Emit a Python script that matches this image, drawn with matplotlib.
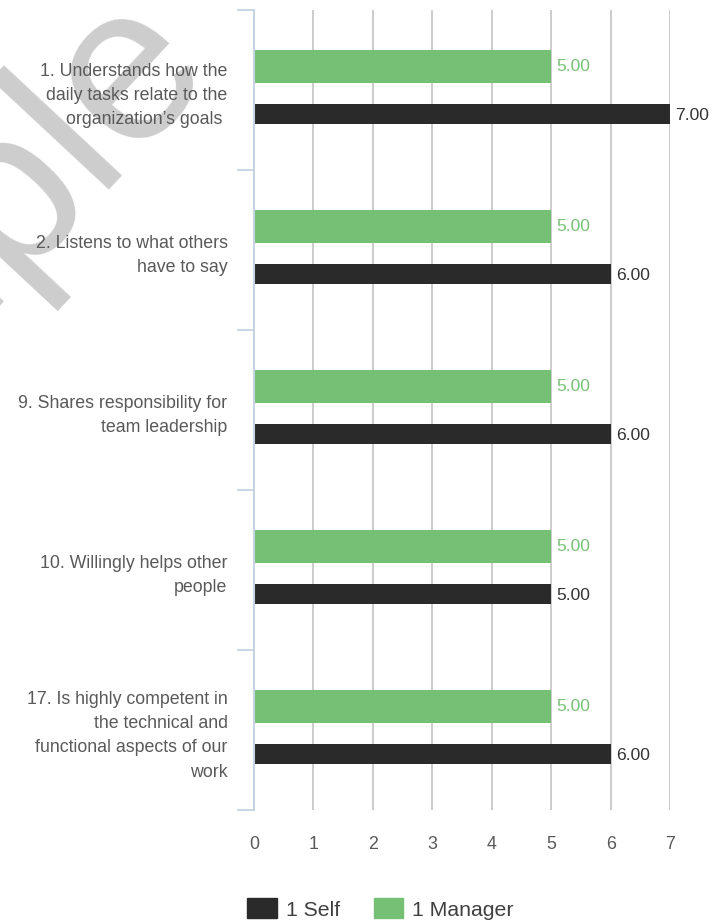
import matplotlib.pyplot as plt
from matplotlib.patches import Patch
from matplotlib.ticker import FixedLocator
import numpy as np

plt.rcParams['font.family'] = ['Liberation Sans', 'DejaVu Sans']

# survey items, top to bottom
categories = [
    "1. Understands how the\ndaily tasks relate to the\norganization\u2019s goals ",
    "2. Listens to what others\nhave to say",
    "9. Shares responsibility for\nteam leadership",
    "10. Willingly helps other\npeople",
    "17. Is highly competent in\nthe technical and\nfunctional aspects of our\nwork",
]
self_scores = [7, 6, 6, 5, 6]
manager_scores = [5, 5, 5, 5, 5]
x_ticks = [0, 1, 2, 3, 4, 5, 6, 7]

green = '#76c076'
dark = '#2a2a2a'
spine_col = '#c5d3e3'
grid_col = '#c8c8c8'

fig = plt.figure(figsize=(7.22, 9.24), dpi=100)
ax = fig.add_axes([254/722, 1 - 810/924, (670 - 254)/722, 800/924])
ax.set_facecolor('none')

# faint watermark behind everything
fig.text(-85/722, 1 - 302/924, "Sample", fontsize=160, color='#cdcdcd',
         rotation=47, ha='center', va='center', rotation_mode='anchor',
         zorder=-1)

idx = np.arange(len(categories))
ax.barh(idx + 0.353, manager_scores, height=0.206, color=green, zorder=3)
ax.barh(idx + 0.65, self_scores, height=0.125, color=dark, zorder=3)

for i, (m, s) in enumerate(zip(manager_scores, self_scores)):
    ax.annotate(f"{m:.2f}", (m, i + 0.353), xytext=(4, 0), textcoords='offset points',
                va='center', ha='left', fontsize=12.6, color=green)
    ax.annotate(f"{s:.2f}", (s, i + 0.66), xytext=(4, 0), textcoords='offset points',
                va='center', ha='left', fontsize=12.6, color='#333333')

ax.set_xlim(0, 7)
ax.set_ylim(len(categories), 0)
ax.set_xticks(x_ticks)
ax.set_xticklabels([str(t) for t in x_ticks])
ax.tick_params(axis='x', length=0, pad=19, labelsize=12.8, labelcolor='#595959')

ax.set_yticks(idx + 0.5)
ax.set_yticklabels(categories, fontsize=12.8, color='#595959', linespacing=1.56)
ax.tick_params(axis='y', which='major', length=0, pad=19)
ax.yaxis.set_minor_locator(FixedLocator(np.arange(len(categories) + 1)))
ax.tick_params(axis='y', which='minor', length=12.5, width=1.3, color=spine_col)

for g in x_ticks[1:]:
    ax.axvline(g, color=grid_col, lw=1.3, zorder=1)

for side in ['top', 'right', 'bottom']:
    ax.spines[side].set_visible(False)
ax.spines['left'].set_color(spine_col)
ax.spines['left'].set_linewidth(1.5)
ax.spines['left'].set_zorder(4)

handles = [Patch(color=dark, label='1 Self'), Patch(color=green, label='1 Manager')]
leg = fig.legend(handles=handles, loc='center', bbox_to_anchor=(0.527, 1 - 909/924),
                 ncol=2, frameon=False, fontsize=15.3, handlelength=1.38,
                 handleheight=1.05, handletextpad=0.43, columnspacing=1.6,
                 borderpad=0)
for t in leg.get_texts():
    t.set_color('#404040')

fig.savefig('out.png', dpi=100)
